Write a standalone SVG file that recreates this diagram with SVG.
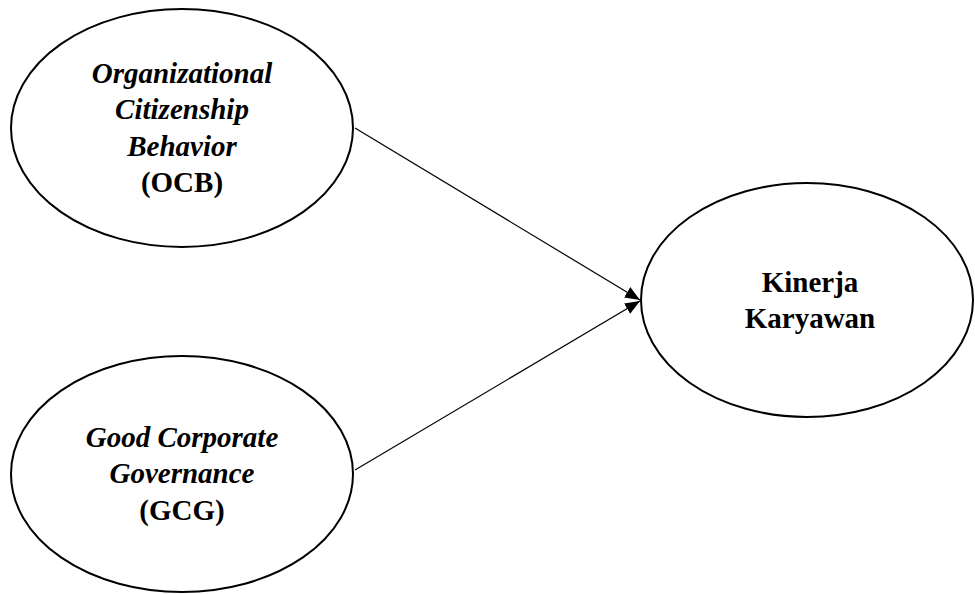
<svg xmlns="http://www.w3.org/2000/svg" width="975" height="594" viewBox="0 0 975 594">
<style>
.node ellipse{fill:#fff;stroke:#000;stroke-width:2}
.t{font-family:"Liberation Serif","Times New Roman",serif;font-size:29px;font-weight:bold;text-anchor:middle;fill:#000}
.i{font-style:italic}
.edge{stroke:#000;stroke-width:1.2;fill:none;marker-end:url(#arr)}
</style>
<defs>
<marker id="arr" markerWidth="15" markerHeight="12" refX="15" refY="6" orient="auto" markerUnits="userSpaceOnUse">
<path d="M0,0 L15,6 L0,12 Z" fill="#000"/>
</marker>
</defs>
<rect width="975" height="594" fill="#fff"/>
<g id="connectors">
<line class="edge" x1="355" y1="128" x2="640" y2="300"/>
<line class="edge" x1="355" y1="470" x2="640" y2="301"/>
</g>
<g id="ocb" class="node">
<ellipse cx="182" cy="128" rx="171" ry="119"/>
<text class="t i" x="182" y="83">Organizational</text>
<text class="t i" x="182" y="119">Citizenship</text>
<text class="t i" x="182" y="156">Behavior</text>
<text class="t" x="182" y="192">(OCB)</text>
</g>
<g id="gcg" class="node">
<ellipse cx="182" cy="474" rx="171" ry="118"/>
<text class="t i" x="182" y="447">Good Corporate</text>
<text class="t i" x="182" y="483">Governance</text>
<text class="t" x="182" y="520">(GCG)</text>
</g>
<g id="kinerja" class="node">
<ellipse cx="807" cy="300" rx="166" ry="117"/>
<text class="t" x="810" y="292">Kinerja</text>
<text class="t" x="810" y="328">Karyawan</text>
</g>
</svg>
